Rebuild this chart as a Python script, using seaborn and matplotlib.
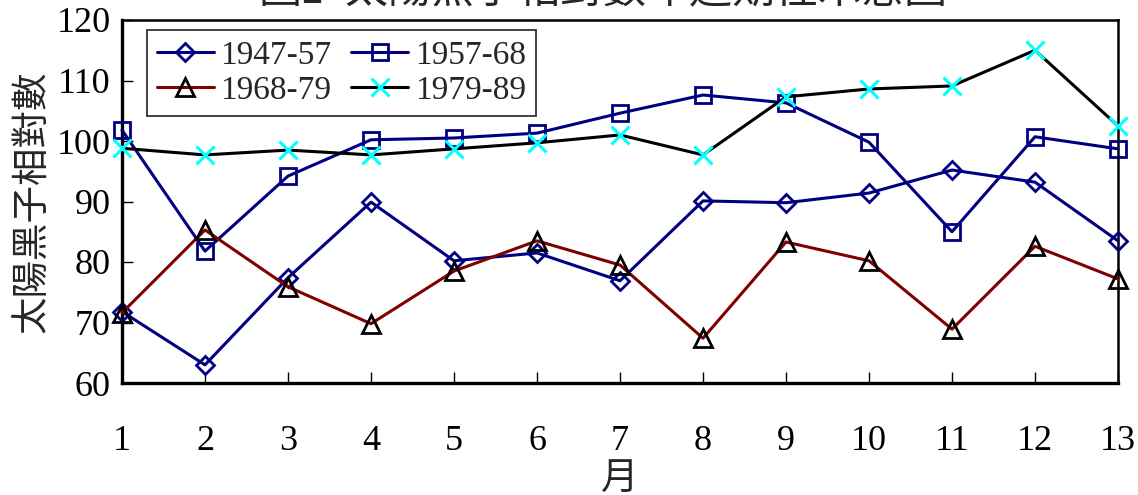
import matplotlib
matplotlib.use('Agg')
import matplotlib.pyplot as plt
import seaborn as sns

months = list(range(1, 14))
s1947 = [71.8, 63.0, 77.4, 89.9, 80.2, 81.5, 76.9, 90.1, 89.8, 91.4, 95.2, 93.2, 83.5]
s1957 = [101.8, 81.8, 94.2, 100.2, 100.5, 101.3, 104.6, 107.6, 106.3, 99.8, 85.0, 100.7, 98.7]
s1968 = [71.6, 85.3, 75.9, 69.8, 78.5, 83.5, 79.5, 67.4, 83.3, 80.2, 68.9, 82.6, 77.2]
s1979 = [98.8, 97.7, 98.5, 97.7, 98.7, 99.7, 101.0, 97.7, 107.3, 108.6, 109.1, 115.0, 102.5]
labels = ['1947-57', '1957-68', '1968-79', '1979-89']

sns.set_style('ticks')
plt.rcParams['font.family'] = ['Liberation Serif', 'Noto Sans CJK TC', 'DejaVu Sans']

fig = plt.figure(figsize=(11.38, 4.95), dpi=100)
ax = fig.add_axes([122 / 1138, 1 - 383 / 495, 996 / 1138, 363 / 495])

navy = '#000080'
lw = 2.2
sns.lineplot(x=months, y=s1947, ax=ax, color=navy, lw=lw, marker='D', markersize=9.5,
             markerfacecolor='none', markeredgecolor=navy, markeredgewidth=2.0,
             clip_on=False, label=labels[0], zorder=3)
sns.lineplot(x=months, y=s1957, ax=ax, color=navy, lw=lw, marker='s', markersize=11,
             markerfacecolor='none', markeredgecolor=navy, markeredgewidth=2.0,
             clip_on=False, label=labels[1], zorder=3)
sns.lineplot(x=months, y=s1968, ax=ax, color='#800000', lw=lw, marker='^', markersize=12.5,
             markerfacecolor='none', markeredgecolor='black', markeredgewidth=2.0,
             clip_on=False, label=labels[2], zorder=3)
sns.lineplot(x=months, y=s1979, ax=ax, color='black', lw=lw, marker='x', markersize=13,
             markeredgecolor='#00FFFF', markeredgewidth=2.2,
             clip_on=False, label=labels[3], zorder=3)

ax.set_xlim(1, 13)
ax.set_ylim(60, 120)
ax.set_xticks(months)
ax.set_yticks(range(60, 121, 10))
ax.tick_params(axis='x', direction='in', length=8, width=1, pad=30, labelsize=26, colors='black')
ax.tick_params(axis='y', direction='in', length=8, width=1, pad=8, labelsize=26, colors='black')
ax.tick_params(top=False, right=False)

for side in ['left', 'bottom']:
    ax.spines[side].set_linewidth(2.4)
for side in ['top', 'right']:
    ax.spines[side].set_linewidth(1.8)
for s in ax.spines.values():
    s.set_color('black')

ax.set_ylabel('太陽黑子相對數', fontsize=27, labelpad=4)
ax.set_xlabel('月', fontsize=27, labelpad=4)

handles, labs = ax.get_legend_handles_labels()
order = [0, 2, 1, 3]
leg = ax.legend([handles[i] for i in order], [labs[i] for i in order], ncol=2,
                loc='upper left', bbox_to_anchor=(0.025, 0.972), borderaxespad=0,
                fontsize=24, frameon=True, fancybox=False, edgecolor='black',
                handlelength=1.7, handletextpad=0.2, columnspacing=0.6,
                labelspacing=0.15, borderpad=0.3)
leg.get_frame().set_linewidth(1.3)

fig.text(603 / 1138, 1 - 3 / 495, '圖2  太陽黑子相對數年週期性示意圖', ha='center', va='baseline',
         fontsize=31)

fig.savefig('out.png', dpi=100)
